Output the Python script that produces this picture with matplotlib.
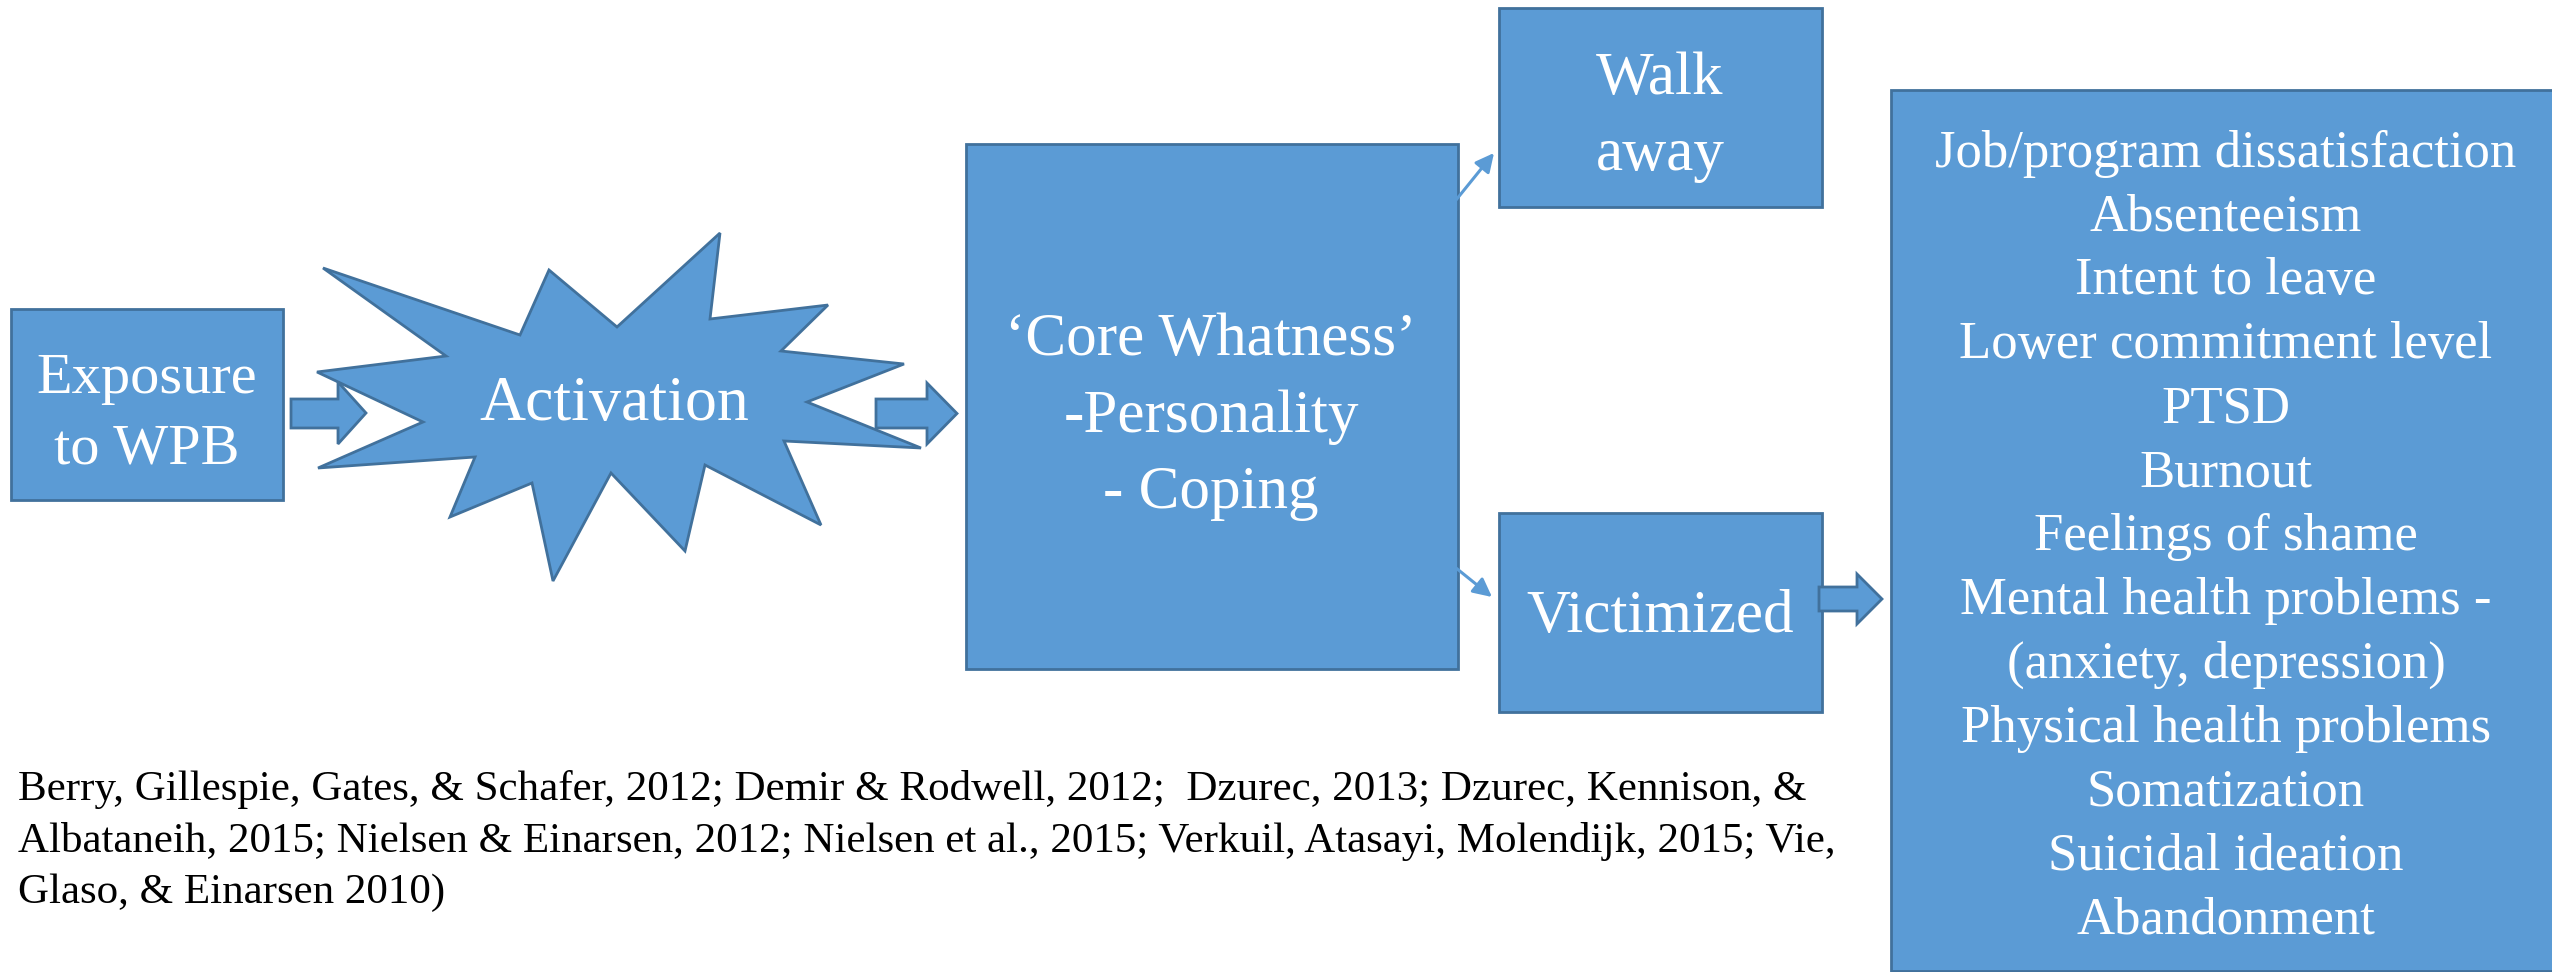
import matplotlib.pyplot as plt
from matplotlib.patches import Polygon, Rectangle
from matplotlib import font_manager

FILL = '#5B9BD5'
EDGE = '#41719C'
plt.rcParams['font.family'] = 'serif'
plt.rcParams['font.serif'] = ['Liberation Serif', 'Times New Roman', 'DejaVu Serif']
print(font_manager.findfont('Liberation Serif'))

# boxes: (x0, y0, x1, y1) in pixel space, y down
boxes = {
    'exposure': (11, 309, 283, 500),
    'core': (966, 144, 1458, 669),
    'walk': (1499, 8, 1822, 207),
    'victim': (1499, 513, 1822, 712),
    'outcomes': (1891, 90, 2570, 971),
}

star_x = [323, 520, 549, 617, 720, 710, 828, 781, 904, 807, 921, 784,
          821, 705, 685, 611, 553, 532, 450, 475, 318, 423, 317, 446]
star_y = [268, 335, 270, 327, 233, 319, 305, 351, 364, 402, 448, 441,
          525, 465, 551, 473, 581, 483, 517, 457, 468, 422, 372, 356]

# block arrows: (shaft start, head base, tip, shaft top, shaft bottom, head top, head bottom)
block_arrows = [
    (291, 338, 366, 399, 428, 382, 444),
    (876, 927, 957, 399, 428, 383, 444),
    (1819, 1857, 1882, 587, 611, 574, 624),
]

thin_arrows = [((1456, 200), (1494, 153)), ((1456, 568), (1492, 597))]

outcomes = [
    "Job/program dissatisfaction",
    "Absenteeism",
    "Intent to leave",
    "Lower commitment level",
    "PTSD",
    "Burnout",
    "Feelings of shame",
    "Mental health problems -",
    "(anxiety, depression)",
    "Physical health problems",
    "Somatization",
    "Suicidal ideation",
    "Abandonment",
]

citation = [
    "Berry, Gillespie, Gates, & Schafer, 2012; Demir & Rodwell, 2012;  Dzurec, 2013; Dzurec, Kennison, &",
    "Albataneih, 2015; Nielsen & Einarsen, 2012; Nielsen et al., 2015; Verkuil, Atasayi, Molendijk, 2015; Vie,",
    "Glaso, & Einarsen 2010)",
]

W, H = 2552, 972
fig = plt.figure(figsize=(W / 100, H / 100), dpi=100)
ax = fig.add_axes([0, 0, 1, 1])
ax.set_xlim(0, W)
ax.set_ylim(H, 0)
ax.axis('off')

for x0, y0, x1, y1 in boxes.values():
    ax.add_patch(Rectangle((x0, y0), x1 - x0, y1 - y0, facecolor=FILL,
                           edgecolor=EDGE, linewidth=2))

ax.add_patch(Polygon(list(zip(star_x, star_y)), closed=True, facecolor=FILL,
                     edgecolor=EDGE, linewidth=2, joinstyle='miter'))

for xs, xh, xt, ys0, ys1, yh0, yh1 in block_arrows:
    pts = [(xs, ys0), (xh, ys0), (xh, yh0), (xt, (yh0 + yh1) / 2),
           (xh, yh1), (xh, ys1), (xs, ys1)]
    ax.add_patch(Polygon(pts, closed=True, facecolor=FILL, edgecolor=EDGE,
                         linewidth=2))

for start, end in thin_arrows:
    ax.annotate('', xy=end, xytext=start,
                arrowprops=dict(arrowstyle='-|>', color=FILL, lw=2.2,
                                mutation_scale=28, shrinkA=0, shrinkB=0))

txt = dict(color='white', ha='center', va='baseline')
ax.text(147, 393, "Exposure", fontsize=42, **txt)
ax.text(147, 463, "to WPB", fontsize=42, **txt)
ax.text(614, 420, "Activation", fontsize=46, **txt)
for i, line in enumerate(["\u2018Core Whatness\u2019", "-Personality", "- Coping"]):
    ax.text(1211, 355 + 76.5 * i, line, fontsize=44, **txt)
ax.text(1660, 94, "Walk", fontsize=44, **txt)
ax.text(1660, 170, "away", fontsize=44, **txt)
ax.text(1660, 632, "Victimized", fontsize=44, **txt)

for i, line in enumerate(outcomes):
    ax.text(2226, 166.5 + 63.9 * i, line, fontsize=38, **txt)

for i, line in enumerate(citation):
    ax.text(18, 800 + 51.5 * i, line, color='black', fontsize=31,
            ha='left', va='baseline')

fig.savefig('out.png', dpi=100)
